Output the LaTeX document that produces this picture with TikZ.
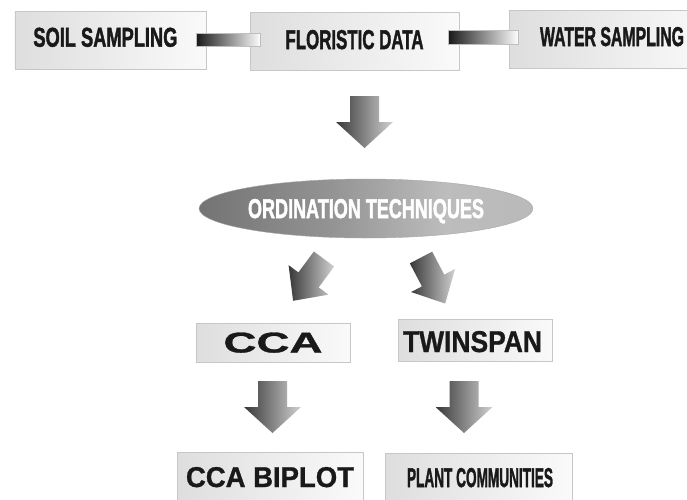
\documentclass[tikz,border=0pt]{standalone}
\usepackage{fontspec}
\setmainfont{Liberation Sans}
\newfontfamily\heavyfont[FakeBold=2]{Liberation Sans Bold}
\newfontfamily\midfont[FakeBold=1]{Liberation Sans Bold}
\usepackage{graphicx}
\usetikzlibrary{shapes.geometric,calc}
\pgfdeclarehorizontalshading{ellsh}{100bp}{color(0bp)=(black!62); color(20bp)=(black!58); color(45bp)=(black!42); color(62bp)=(black!26); color(82bp)=(black!28); color(100bp)=(black!48)}
\newcommand\fitt[4][0]{\raisebox{#1pt}[#3pt][0pt]{\resizebox{#2pt}{#3pt}{\heavyfont #4}}}
\newcommand\fitw[4][0]{\raisebox{#1pt}[#3pt][0pt]{\resizebox{#2pt}{#3pt}{\midfont #4}}}
\newcommand\blockarr[4]{%
  \begin{scope}[shift={(#1,#2)},rotate=#3]
    \path[arrowfill] (-14.5*#4,0) -- (14.5*#4,0) -- (14.5*#4,26) -- (28.5*#4,26) -- (0,52) -- (-28.5*#4,26) -- (-14.5*#4,26) -- cycle;
  \end{scope}}
\begin{document}
\begin{tikzpicture}[x=1pt,y=-1pt,
  mybox/.style={rectangle, draw=black!22, line width=0.7pt, left color=black!13, right color=black!2, inner sep=0pt, text=black!90},
  mybar/.style={draw=black!25, line width=0.6pt, left color=black!90, right color=white},
  arrowfill/.style={left color=black!78, right color=black!18, draw=none},
  ellbox/.style={ellipse, shade, shading=ellsh, draw=black!35, line width=0.4pt, inner sep=0pt, text=white}]
\clip (0,0) rectangle (687,499);
\fill[white] (0,0) rectangle (687,499);
% top row
\node[mybox, minimum width=191pt, minimum height=58pt] (soil) at (110.4,40) {\hspace*{-10pt}\fitt[2.8]{144}{19}{SOIL SAMPLING}};
\node[mybox, minimum width=209pt, minimum height=58pt] (flor) at (354.5,41) {\fitt[1.5]{138}{19}{FLORISTIC DATA}};
\node[mybox, minimum width=206pt, minimum height=58pt] (water) at (612,39) {\fitt[2.5]{144}{19}{WATER SAMPLING}};
% connector bars
\path[mybar] ($(soil.east)+(-10,-7)$) rectangle ($(flor.west)+(11,5)$);
\path[mybar] ($(flor.east)+(-11,-11)$) rectangle ($(water.west)+(10,5)$);
% ellipse
\node[ellbox, minimum width=322pt, minimum height=59pt] (ord) at (366,208.5) {\fitt{236}{19}{ORDINATION TECHNIQUES}};
% middle row
\node[mybox, minimum width=154pt, minimum height=39pt] (cca) at (273,342.5) {\fitw{99}{20}{CCA}};
\node[mybox, minimum width=154pt, minimum height=42pt] (twin) at (475,340) {\hspace*{-5pt}\fitw[-1.5]{139}{21}{TWINSPAN}};
% bottom row
\node[mybox, minimum width=186pt, minimum height=50pt] (biplot) at (270,477) {\fitw{168}{20}{CCA BIPLOT}};
\node[mybox, minimum width=187pt, minimum height=49pt] (plant) at (478.5,477.5) {\hspace*{3pt}\fitt{146}{19}{PLANT COMMUNITIES}};
% block arrows
\blockarr{364.5}{96}{0}{1}
\blockarr{324}{259}{-36.5}{0.87}
\blockarr{421}{257.5}{27.7}{0.87}
\blockarr{272.5}{381}{0}{1}
\blockarr{464}{381}{0}{1}
\end{tikzpicture}
\end{document}
